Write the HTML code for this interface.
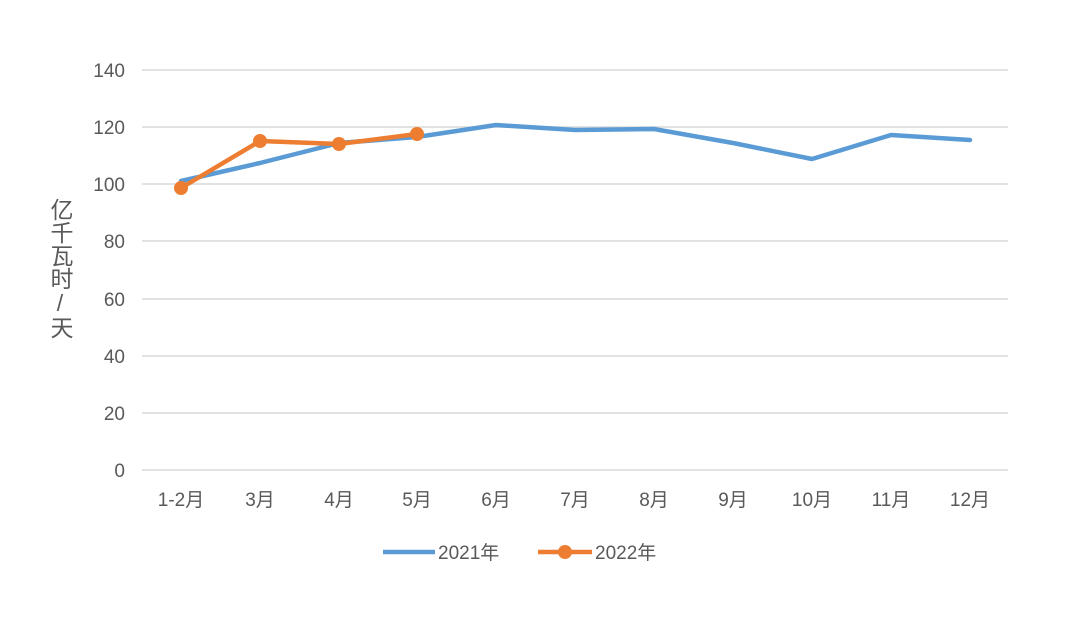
<!DOCTYPE html>
<html><head><meta charset="utf-8"><style>
body{margin:0;background:#fff;}
svg text{font-family:"Liberation Sans","Noto Sans CJK SC",sans-serif;fill:#595959;}
</style></head><body>
<svg width="1083" height="619" xmlns="http://www.w3.org/2000/svg">
<rect width="1083" height="619" fill="#fff"/>
<g stroke="#d9d9d9" stroke-width="1.5">
<line x1="142" y1="70" x2="1008" y2="70"/>
<line x1="142" y1="127" x2="1008" y2="127"/>
<line x1="142" y1="184" x2="1008" y2="184"/>
<line x1="142" y1="241" x2="1008" y2="241"/>
<line x1="142" y1="299" x2="1008" y2="299"/>
<line x1="142" y1="356" x2="1008" y2="356"/>
<line x1="142" y1="413" x2="1008" y2="413"/>
<line x1="142" y1="470" x2="1008" y2="470"/>
</g>
<g font-size="19" text-anchor="end">
<text x="125" y="77">140</text>
<text x="125" y="134">120</text>
<text x="125" y="191">100</text>
<text x="125" y="248">80</text>
<text x="125" y="306">60</text>
<text x="125" y="363">40</text>
<text x="125" y="420">20</text>
<text x="125" y="477">0</text>
</g>
<text x="60" y="198" font-size="23" style="writing-mode:vertical-rl;text-orientation:upright">亿千瓦时/天</text>
<g font-size="19" text-anchor="middle">
<text x="181" y="506">1-2月</text><text x="260" y="506">3月</text><text x="339" y="506">4月</text>
<text x="417" y="506">5月</text><text x="496" y="506">6月</text><text x="575" y="506">7月</text>
<text x="654" y="506">8月</text><text x="733" y="506">9月</text><text x="812" y="506">10月</text>
<text x="891" y="506">11月</text><text x="970" y="506">12月</text>
</g>
<polyline fill="none" stroke="#5b9bd5" stroke-width="4.5" stroke-linejoin="round" stroke-linecap="round"
points="181,181 260,163 339,143 417,137 496,125 575,130 654,129 733,143 812,159 891,135 970,140"/>
<polyline fill="none" stroke="#ed7d31" stroke-width="4.5" stroke-linejoin="round"
points="181,188 260,141 339,144 417,134"/>
<g fill="#ed7d31"><circle cx="181" cy="188" r="7"/><circle cx="260" cy="141" r="7"/><circle cx="339" cy="144" r="7"/><circle cx="417" cy="134" r="7"/></g>
<line x1="383" y1="552" x2="435" y2="552" stroke="#5b9bd5" stroke-width="4.5"/>
<text x="438" y="559" font-size="19">2021年</text>
<line x1="538" y1="552" x2="592" y2="552" stroke="#ed7d31" stroke-width="4.5"/>
<circle cx="565" cy="552" r="7" fill="#ed7d31"/>
<text x="595" y="559" font-size="19">2022年</text>
</svg>
</body></html>
